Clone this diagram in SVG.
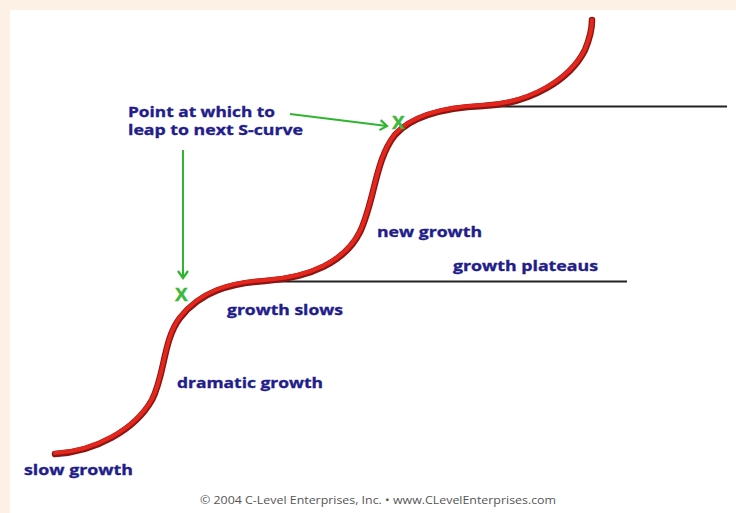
<svg xmlns="http://www.w3.org/2000/svg" width="736" height="513" viewBox="0 0 736 513">
<style>
.lbl{font-family:"Open Sans","Liberation Sans",sans-serif;font-weight:bold;font-size:15px;fill:#221d8a;stroke:#221d8a;stroke-width:0.35}
.x{font-family:"Liberation Sans",sans-serif;font-weight:bold;font-size:19px;fill:#3cb83c;stroke:#3cb83c;stroke-width:0.5}
.arr{stroke:#2fb52f;stroke-width:2;fill:none}
.plat{stroke:#222;stroke-width:2;fill:none}
.copy{font-family:"Open Sans","Liberation Sans",sans-serif;font-size:10.5px;fill:#555}
</style>
<defs>
<marker id="ah" markerWidth="12" markerHeight="12" refX="9" refY="6" orient="auto" markerUnits="userSpaceOnUse">
<polyline points="2,1 9,6 2,11" fill="none" stroke="#2fb52f" stroke-width="2.2"/>
</marker>
</defs>
<rect x="0" y="0" width="736" height="513" fill="#fdf1e6"/>
<rect x="10" y="10" width="726" height="503" fill="#ffffff"/>
<g id="plateaus">
<line class="plat" x1="265" y1="281.5" x2="627" y2="281.5"/>
<line class="plat" x1="483" y1="106.5" x2="727" y2="106.5"/>
</g>
<g id="s-curve">
<path d="M55,454 C95,452 135,430 152,400 C165,375 163,340 180,318 C200,292 230,283 265,281 C310,278 345,262 360,232 C375,200 375,160 395,135 C410,118 440,108 483,106 C530,104 570,80 585,50 C590,38 592,28 592,20" fill="none" stroke="#8a1512" stroke-width="6.5" stroke-linecap="round"/>
<path d="M55,453 C95,451 135,429 152,399 C165,374 163,339 180,317 C200,291 230,282 265,280 C310,277 345,261 360,231 C375,199 375,159 395,134 C410,117 440,107 483,105 C530,103 570,79 585,49 C590,37 592,27 592,20" fill="none" stroke="#e4261c" stroke-width="4" stroke-linecap="round"/>
</g>
<g id="markers">
<text class="x" x="175" y="301">X</text>
<text class="x" x="392" y="129">X</text>
</g>
<g id="connectors">
<line class="arr" x1="183" y1="150" x2="183" y2="278" marker-end="url(#ah)"/>
<line class="arr" x1="290" y1="114" x2="387" y2="126" marker-end="url(#ah)"/>
</g>
<g id="label-point">
<text class="lbl" x="128" y="117" textLength="147" lengthAdjust="spacingAndGlyphs">Point at which to</text>
<text class="lbl" x="128" y="135" textLength="175" lengthAdjust="spacingAndGlyphs">leap to next S-curve</text>
</g>
<g id="label-new"><text class="lbl" x="377" y="237" textLength="105" lengthAdjust="spacingAndGlyphs">new growth</text></g>
<g id="label-plateaus"><text class="lbl" x="453" y="271" textLength="145" lengthAdjust="spacingAndGlyphs">growth plateaus</text></g>
<g id="label-slows"><text class="lbl" x="227" y="315" textLength="116" lengthAdjust="spacingAndGlyphs">growth slows</text></g>
<g id="label-dramatic"><text class="lbl" x="177" y="388" textLength="146" lengthAdjust="spacingAndGlyphs">dramatic growth</text></g>
<g id="label-slow"><text class="lbl" x="24" y="475" textLength="109" lengthAdjust="spacingAndGlyphs">slow growth</text></g>
<text class="copy" x="200" y="504" textLength="356" lengthAdjust="spacingAndGlyphs">© 2004 C-Level Enterprises, Inc.  •  www.CLevelEnterprises.com</text>
</svg>
